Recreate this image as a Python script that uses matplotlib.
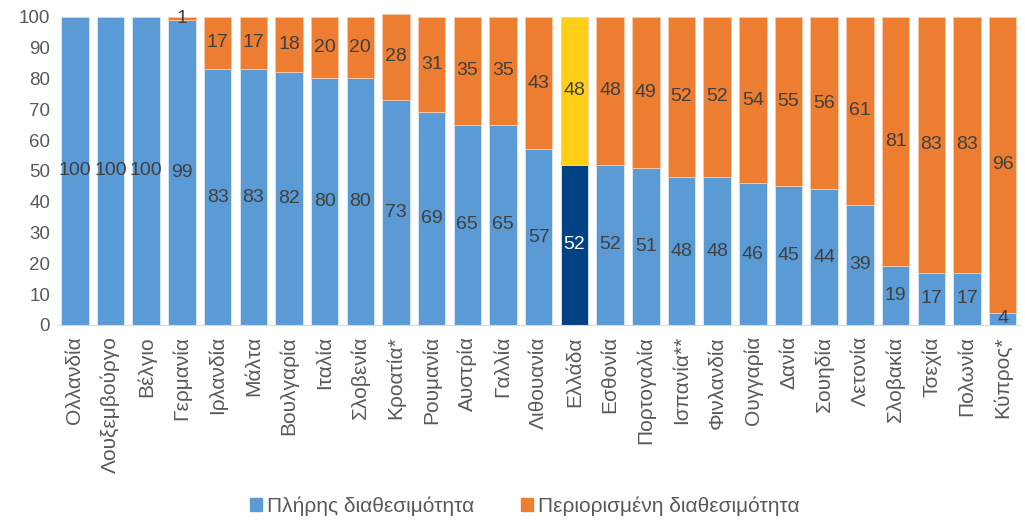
import numpy as np
import matplotlib.pyplot as plt

plt.rcParams["font.family"] = ["Liberation Sans", "DejaVu Sans"]

countries = ["Ολλανδία", "Λουξεμβούργο", "Βέλγιο", "Γερμανία", "Ιρλανδία",
             "Μάλτα", "Βουλγαρία", "Ιταλία", "Σλοβενία", "Κροατία*",
             "Ρουμανία", "Αυστρία", "Γαλλία", "Λιθουανία", "Ελλάδα",
             "Εσθονία", "Πορτογαλία", "Ισπανία**", "Φινλανδία", "Ουγγαρία",
             "Δανία", "Σουηδία", "Λετονία", "Σλοβακία", "Τσεχία", "Πολωνία",
             "Κύπρος*"]
full = [100, 100, 100, 99, 83, 83, 82, 80, 80, 73, 69, 65, 65, 57, 52,
        52, 51, 48, 48, 46, 45, 44, 39, 19, 17, 17, 4]
limited = [0, 0, 0, 1, 17, 17, 18, 20, 20, 28, 31, 35, 35, 43, 48,
           48, 49, 52, 52, 54, 55, 56, 61, 81, 83, 83, 96]
highlight = "Ελλάδα"

BLUE = "#5B9BD5"
ORANGE = "#ED7D31"
NAVY = "#004282"
YELLOW = "#FFCF16"
TXT = "#404040"

fig = plt.figure(figsize=(10.25, 5.25), dpi=100)
ax = fig.add_axes([0.0556, 0.381, 0.94, 0.587])

x = np.arange(len(countries))
c_full = [NAVY if c == highlight else BLUE for c in countries]
c_lim = [YELLOW if c == highlight else ORANGE for c in countries]

ax.bar(x, full, width=0.77, color=c_full, edgecolor="#dfe8f3",
       linewidth=0.6, clip_on=False)
ax.bar(x, limited, width=0.77, bottom=full, color=c_lim,
       edgecolor="#f6c9ad", linewidth=0.6, clip_on=False)

for i, c in enumerate(countries):
    col = "white" if c == highlight else TXT
    ax.text(x[i], full[i] / 2, str(full[i]), ha="center", va="center",
            fontsize=14, color=col)
    if limited[i] > 0:
        ax.text(x[i], full[i] + limited[i] / 2, str(limited[i]),
                ha="center", va="center", fontsize=14, color=TXT)

ax.set_xlim(-0.5, len(countries) - 0.5)
ax.set_ylim(0, 100)
ax.set_yticks(range(0, 101, 10))
ax.set_xticks(x)
ax.set_xticklabels(countries, rotation=90, fontsize=15, color="#595959")
ax.tick_params(axis="y", length=0, labelsize=13.5, labelcolor="#595959", pad=5)
ax.tick_params(axis="x", length=0, pad=8)
for s in ["top", "right", "left"]:
    ax.spines[s].set_visible(False)
ax.spines["bottom"].set_color("#d9d9d9")

handles = [plt.Rectangle((0, 0), 1, 1, color=BLUE),
           plt.Rectangle((0, 0), 1, 1, color=ORANGE)]
fig.legend(handles, ["Πλήρης διαθεσιμότητα", "Περιορισμένη διαθεσιμότητα"],
           loc="lower center", bbox_to_anchor=(0.512, -0.018), ncol=2,
           frameon=False, fontsize=15, handlelength=0.6, handleheight=0.6,
           handletextpad=0.25, columnspacing=2.2, labelcolor="#595959")

fig.savefig("out.png", dpi=100)
